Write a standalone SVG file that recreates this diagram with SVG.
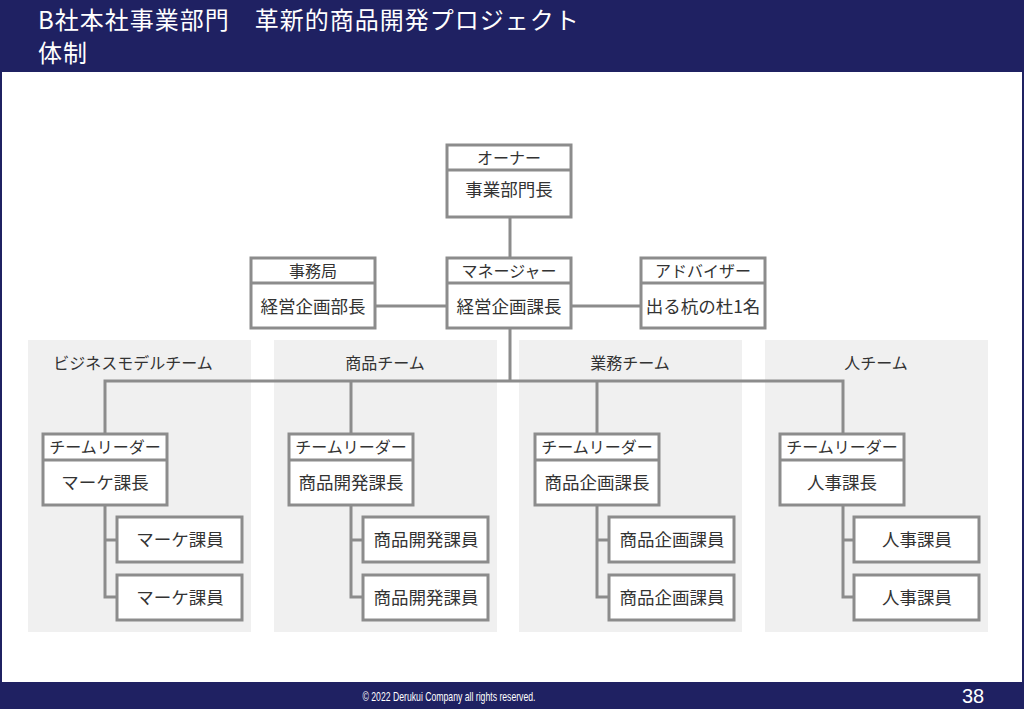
<svg xmlns="http://www.w3.org/2000/svg" width="1024" height="709" viewBox="0 0 1024 709">
<style>
text{font-family:"Noto Sans CJK JP","Noto Sans",sans-serif;}
.box{fill:#ffffff;stroke:#8c8c8c;stroke-width:3;}
.div{stroke:#8c8c8c;stroke-width:3;}
.team{fill:#f0f0f0;}
.conn{fill:none;stroke:#8c8c8c;stroke-width:3;}
.t{fill:#333333;font-size:16px;text-anchor:middle;}
.b{fill:#333333;font-size:17.5px;text-anchor:middle;}
.title{fill:#ffffff;font-size:24px;letter-spacing:1px;}
</style>
<rect x="0" y="0" width="1024" height="709" fill="#ffffff"/>
<g id="header">
<rect x="0" y="0" width="1024" height="72" fill="#1f2162"/>
<text class="title" x="38" y="29">B社本社事業部門　革新的商品開発プロジェクト</text>
<text class="title" x="38" y="62">体制</text>
</g>
<g id="teams">
<g id="team-bm"><rect class="team" x="28" y="340" width="223" height="292"/><text class="t" x="133" y="369">ビジネスモデルチーム</text></g>
<g id="team-shohin"><rect class="team" x="274" y="340" width="223" height="292"/><text class="t" x="385" y="369">商品チーム</text></g>
<g id="team-gyomu"><rect class="team" x="519" y="340" width="223" height="292"/><text class="t" x="630" y="369">業務チーム</text></g>
<g id="team-hito"><rect class="team" x="765" y="340" width="223" height="292"/><text class="t" x="876" y="369">人チーム</text></g>
</g>
<g id="connectors">
<path class="conn" d="M510 217V258"/>
<path class="conn" d="M375 306H447M571 306H641"/>
<path class="conn" d="M510 328V381M105 434V381H843V434M351 381V434M597 381V434"/>
<path class="conn" d="M105 505V597H117M105 540H117"/>
<path class="conn" d="M351 505V597H363M351 540H363"/>
<path class="conn" d="M597 505V597H609M597 540H609"/>
<path class="conn" d="M843 505V597H854M843 540H854"/>
</g>
<g id="owner"><rect class="box" x="447" y="145" width="124" height="72"/><line class="div" x1="447" y1="170" x2="571" y2="170"/><text class="t" x="509" y="164">オーナー</text><text class="b" x="509" y="196">事業部門長</text></g>
<g id="jimukyoku"><rect class="box" x="251" y="258" width="124" height="70"/><line class="div" x1="251" y1="283" x2="375" y2="283"/><text class="t" x="313" y="277">事務局</text><text class="b" x="313" y="313">経営企画部長</text></g>
<g id="manager"><rect class="box" x="447" y="258" width="124" height="70"/><line class="div" x1="447" y1="283" x2="571" y2="283"/><text class="t" x="509" y="277">マネージャー</text><text class="b" x="509" y="313">経営企画課長</text></g>
<g id="advisor"><rect class="box" x="641" y="258" width="124" height="70"/><line class="div" x1="641" y1="283" x2="765" y2="283"/><text class="t" x="703" y="277">アドバイザー</text><text class="b" x="703" y="313">出る杭の杜1名</text></g>
<g id="leader-bm"><rect class="box" x="43" y="434" width="124" height="71"/><line class="div" x1="43" y1="460" x2="167" y2="460"/><text class="t" x="105" y="453">チームリーダー</text><text class="b" x="105" y="489">マーケ課長</text></g>
<g id="leader-shohin"><rect class="box" x="289" y="434" width="124" height="71"/><line class="div" x1="289" y1="460" x2="413" y2="460"/><text class="t" x="351" y="453">チームリーダー</text><text class="b" x="351" y="489">商品開発課長</text></g>
<g id="leader-gyomu"><rect class="box" x="535" y="434" width="124" height="71"/><line class="div" x1="535" y1="460" x2="659" y2="460"/><text class="t" x="597" y="453">チームリーダー</text><text class="b" x="597" y="489">商品企画課長</text></g>
<g id="leader-hito"><rect class="box" x="780" y="434" width="124" height="71"/><line class="div" x1="780" y1="460" x2="904" y2="460"/><text class="t" x="842" y="453">チームリーダー</text><text class="b" x="842" y="489">人事課長</text></g>
<g id="member-bm-1"><rect class="box" x="117" y="517" width="125" height="45"/><text class="b" x="180" y="546">マーケ課員</text></g>
<g id="member-bm-2"><rect class="box" x="117" y="575" width="125" height="45"/><text class="b" x="180" y="604">マーケ課員</text></g>
<g id="member-shohin-1"><rect class="box" x="363" y="517" width="125" height="45"/><text class="b" x="426" y="546">商品開発課員</text></g>
<g id="member-shohin-2"><rect class="box" x="363" y="575" width="125" height="45"/><text class="b" x="426" y="604">商品開発課員</text></g>
<g id="member-gyomu-1"><rect class="box" x="609" y="517" width="125" height="45"/><text class="b" x="672" y="546">商品企画課員</text></g>
<g id="member-gyomu-2"><rect class="box" x="609" y="575" width="125" height="45"/><text class="b" x="672" y="604">商品企画課員</text></g>
<g id="member-hito-1"><rect class="box" x="854" y="517" width="125" height="45"/><text class="b" x="917" y="546">人事課員</text></g>
<g id="member-hito-2"><rect class="box" x="854" y="575" width="125" height="45"/><text class="b" x="917" y="604">人事課員</text></g>
<g id="footer">
<rect x="0" y="682" width="1024" height="27" fill="#1f2162"/>
<text x="449" y="701" fill="#ffffff" font-size="13" text-anchor="middle" textLength="173" lengthAdjust="spacingAndGlyphs" style="font-family:'Liberation Sans',sans-serif">© 2022 Derukui Company all rights reserved.</text>
<text x="973" y="703" fill="#ffffff" font-size="20" text-anchor="middle" style="font-family:'Liberation Sans',sans-serif">38</text>
</g>
<rect x="1" y="1" width="1022" height="707" fill="none" stroke="#1f2162" stroke-width="2"/>
</svg>
